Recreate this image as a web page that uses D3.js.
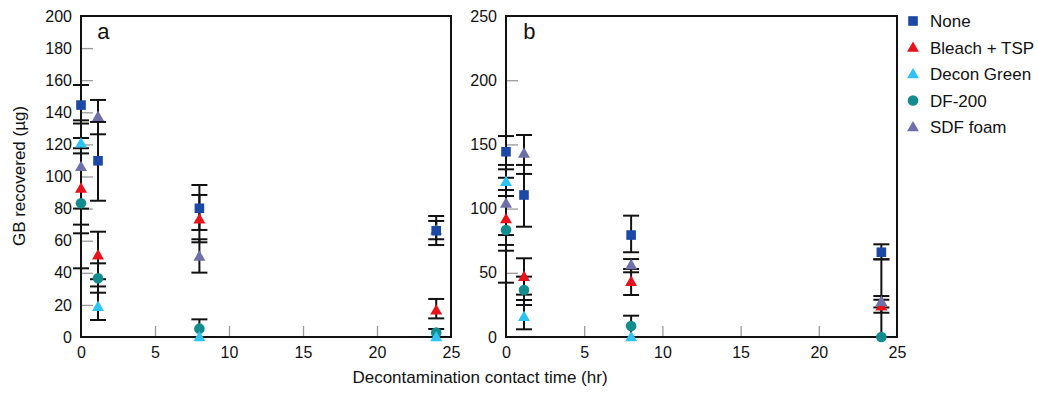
<!DOCTYPE html>
<html><head><meta charset="utf-8">
<script src="https://cdn.jsdelivr.net/npm/d3@7"></script>
<style>
body{margin:0;background:#fff}
svg{display:block}
text{font-family:"Liberation Sans",Arial,Helvetica,sans-serif;fill:#111}
</style>
</head><body>
<svg id="chart" width="1038" height="393"></svg>
<script>
// ---------------- DATA ----------------
const times = [0, 1.15, 8, 24];
const seriesNames = ["None", "Bleach + TSP", "Decon Green", "DF-200", "SDF foam"];
const seriesColors = ["#1c48a6", "#e8121d", "#2ec4f2", "#128c8c", "#6f70a8"];
const seriesShapes = ["square", "triangle", "triangle", "circle", "triangle"];

const xTicks = [0, 5, 10, 15, 20, 25];
const yTicksA = [0, 20, 40, 60, 80, 100, 120, 140, 160, 180, 200];
const yTicksB = [0, 50, 100, 150, 200, 250];

// Panel a : values, lower and upper error-bar ends
const aNone      = [144.5, 109.8, 80.2, 66.2];
const aNoneLo    = [133, 84.9, 66.7, 57.3];
const aNoneHi    = [157, 134, 94.7, 75.4];
const aBleach    = [92.6, 51, 73.3, 16.6];
const aBleachLo  = [64.6, 36, 59, 11.6];
const aBleachHi  = [114.4, 65.6, 88.5, 23.7];
const aDecon     = [120.7, 18.9, 0, 0];
const aDeconLo   = [70, 10.6, 0, 0];
const aDeconHi   = [135, 31.5, 0, 0];
const aDF        = [83.3, 36.6, 5.2, 2.7];
const aDFLo      = [42.8, 27.6, 0, 0];
const aDFHi      = [124, 45.9, 11, 5];
const aSDF       = [106, 137.3, 50.2, 66.5];
const aSDFLo     = [80, 126.3, 40.1, 60.9];
const aSDFHi     = [117.6, 147.7, 60.9, 72.3];

// Panel b
const bNone      = [144.3, 110.6, 79.4, 66];
const bNoneLo    = [130.6, 85.9, 66, 60.5];
const bNoneHi    = [156.5, 134, 94.5, 72.2];
const bBleach    = [91.9, 47, 43.1, 24];
const bBleachLo  = [67.2, 33, 32.7, 18.9];
const bBleachHi  = [109.8, 61.3, 53, 29];
const bDecon     = [121, 15.8, 0, null];
const bDeconLo   = [71.7, 6, 0, null];
const bDeconHi   = [134, 28.8, 0, null];
const bDF        = [83.3, 36.6, 8.6, 0];
const bDFLo      = [42.3, 24.9, 0, 0];
const bDFHi      = [124, 47, 16.6, 60.5];
const bSDF       = [104, 143, 56.1, 27.5];
const bSDFLo     = [79.4, 127, 50.4, 23];
const bSDFHi     = [114.5, 157.3, 60.7, 31.9];

const panelA = {label: "a", yMax: 200, yTicks: yTicksA, series: [
  [aNone, aNoneLo, aNoneHi], [aBleach, aBleachLo, aBleachHi], [aDecon, aDeconLo, aDeconHi],
  [aDF, aDFLo, aDFHi], [aSDF, aSDFLo, aSDFHi]]};
const panelB = {label: "b", yMax: 250, yTicks: yTicksB, series: [
  [bNone, bNoneLo, bNoneHi], [bBleach, bBleachLo, bBleachHi], [bDecon, bDeconLo, bDeconHi],
  [bDF, bDFLo, bDFHi], [bSDF, bSDFLo, bSDFHi]]};

// ---------------- DRAW ----------------
const svg = d3.select("#chart");
const drawOrder = [1, 3, 2, 4, 0];

function marker(g, shape, color, cx, cy) {
  if (shape === "square") {
    g.append("rect").attr("x", cx - 4.8).attr("y", cy - 4.8).attr("width", 9.6).attr("height", 9.6).attr("fill", color);
  } else if (shape === "circle") {
    g.append("circle").attr("cx", cx).attr("cy", cy).attr("r", 5.3).attr("fill", color);
  } else {
    g.append("path").attr("d", d3.symbol(d3.symbolTriangle, 62)()).attr("transform", `translate(${cx},${cy + 0.8})`).attr("fill", color);
  }
}

function drawPanel(p, x0, x1) {
  const top = 16, bottom = 337;
  const x = d3.scaleLinear().domain([0, 25]).range([x0, x1]);
  const y = d3.scaleLinear().domain([0, p.yMax]).range([bottom, top]);
  const g = svg.append("g");

  // inner grey ticks
  g.append("g").attr("transform", `translate(${x0},0)`)
    .call(d3.axisRight(y).tickValues(p.yTicks.slice(1, -1)).tickSize(12).tickFormat(""))
    .call(s => { s.select(".domain").remove(); s.selectAll("line").attr("stroke", "#9a9a9a").attr("stroke-width", 1.3); });
  g.append("g").attr("transform", `translate(0,${bottom})`)
    .call(d3.axisTop(x).tickValues(xTicks.slice(1, -1)).tickSize(11).tickFormat(""))
    .call(s => { s.select(".domain").remove(); s.selectAll("line").attr("stroke", "#9a9a9a").attr("stroke-width", 1.3); });

  // tick labels
  g.append("g").attr("transform", `translate(${x0},0)`)
    .call(d3.axisLeft(y).tickValues(p.yTicks).tickSize(0).tickPadding(9))
    .call(s => { s.select(".domain").remove(); s.selectAll("text").attr("font-size", 16).style("font-family", "Liberation Sans, Arial, sans-serif").attr("fill", "#111"); });
  g.append("g").attr("transform", `translate(0,${bottom})`)
    .call(d3.axisBottom(x).tickValues(xTicks).tickSize(0).tickPadding(10))
    .call(s => { s.select(".domain").remove(); s.selectAll("text").attr("font-size", 16).style("font-family", "Liberation Sans, Arial, sans-serif").attr("fill", "#111"); });

  // frame
  g.append("rect").attr("x", x0).attr("y", top).attr("width", x1 - x0).attr("height", bottom - top)
    .attr("fill", "none").attr("stroke", "#111").attr("stroke-width", 2);

  g.append("text").attr("x", x(1.1)).attr("y", 39).attr("font-size", 22).text(p.label);

  // error bars
  const eb = g.append("g").attr("stroke", "#111").attr("stroke-width", 2);
  drawOrder.forEach(si => {
    const [vals, lo, hi] = p.series[si];
    times.forEach((t, i) => {
      if (vals[i] == null || lo[i] === hi[i]) return;
      const cx = x(t);
      eb.append("line").attr("x1", cx).attr("x2", cx).attr("y1", y(lo[i])).attr("y2", y(hi[i]));
      [lo[i], hi[i]].forEach(v => {
        if (v <= 0) return;
        eb.append("line").attr("x1", cx - 8).attr("x2", cx + 8).attr("y1", y(v)).attr("y2", y(v));
      });
    });
  });
  // markers
  drawOrder.forEach(si => {
    const [vals] = p.series[si];
    times.forEach((t, i) => {
      if (vals[i] == null) return;
      marker(g, seriesShapes[si], seriesColors[si], x(t), y(vals[i]));
    });
  });
}

drawPanel(panelA, 81, 451);
drawPanel(panelB, 506, 897);

// axis titles
svg.append("text").attr("x", 480).attr("y", 383).attr("text-anchor", "middle").attr("font-size", 17)
  .text("Decontamination contact time (hr)");
svg.append("text").attr("transform", "translate(25,176) rotate(-90)").attr("text-anchor", "middle").attr("font-size", 17)
  .text("GB recovered (µg)");

// legend
const legend = svg.append("g");
seriesNames.forEach((name, i) => {
  const ly = 21 + i * 26.5;
  marker(legend, seriesShapes[i], seriesColors[i], 913, ly);
  legend.append("text").attr("x", 930).attr("y", ly).attr("dy", "0.36em").attr("font-size", 17).text(name);
});
</script>
</body></html>
